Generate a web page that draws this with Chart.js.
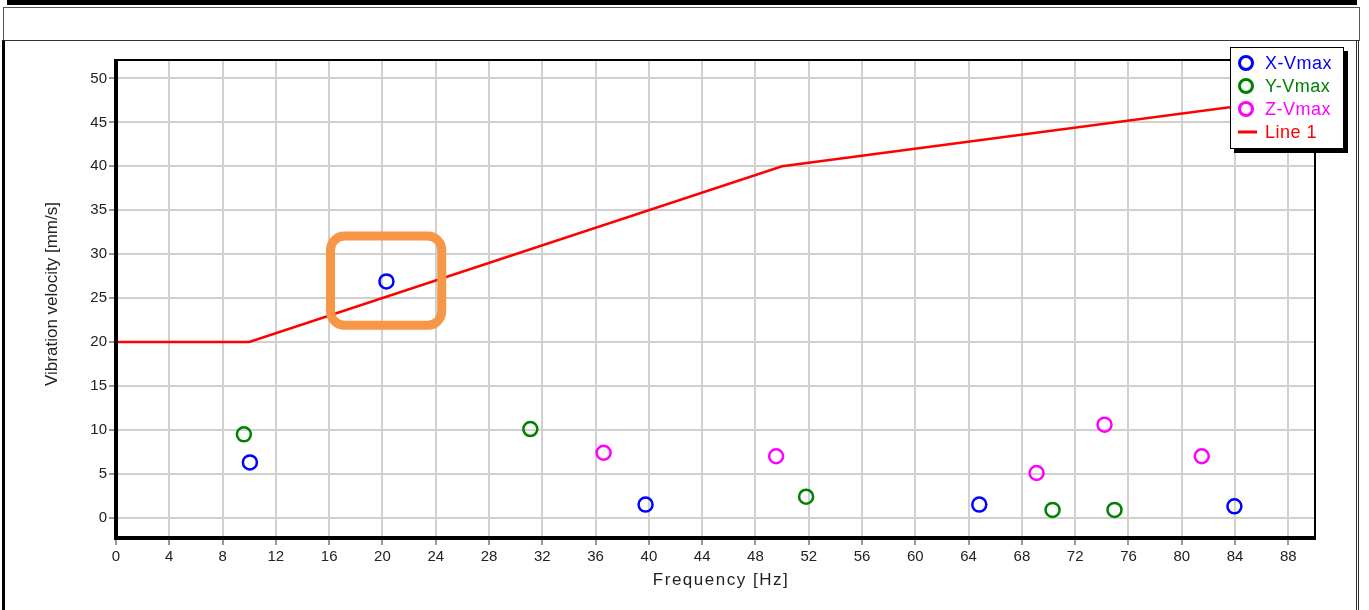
<!DOCTYPE html>
<html>
<head>
<meta charset="utf-8">
<script src="https://cdn.jsdelivr.net/npm/chart.js@4/dist/chart.umd.min.js"></script>
<style>
  html, body { margin: 0; padding: 0; background: #fff; }
  body { width: 1369px; height: 610px; position: relative; overflow: hidden; font-family: "Liberation Sans", Arial, sans-serif; }
  #topbar { position: absolute; left: 7px; top: 0; width: 1350px; height: 5px; background: #000; }
  #box1 { position: absolute; left: 3px; top: 7px; width: 1355px; height: 32px; border: 1px solid #555; }
  #box2 { position: absolute; left: 2px; top: 40px; width: 1351px; height: 575px; border-left: 3px solid #000; border-top: 1px solid #333; border-right: 3px double #333; }
  #wrap { position: absolute; left: 0; top: 0; width: 1369px; height: 610px; }
</style>
</head>
<body>
<div id="topbar"></div>
<div id="box1"></div>
<div id="box2"></div>
<div id="wrap"><canvas id="chart"></canvas></div>
<script>
// measured values
const xVmaxFreq = [10.05, 20.3, 39.75, 64.8, 83.95];
const xVmaxVel  = [6.3, 26.9, 1.5, 1.5, 1.3];
const yVmaxFreq = [9.6, 31.1, 51.8, 70.3, 74.95];
const yVmaxVel  = [9.5, 10.1, 2.4, 0.9, 0.9];
const zVmaxFreq = [36.6, 49.55, 69.1, 74.2, 81.5];
const zVmaxVel  = [7.4, 7.0, 5.1, 10.6, 7.0];
const line1Freq = [0, 10, 50, 100];
const line1Vel  = [20, 20, 40, 50];
const highlight = { xMin: 16.1, xMax: 24.45, yMin: 21.9, yMax: 32.06 };

const FONT = '"Liberation Sans", Arial, sans-serif';
const pts = (xs, ys) => xs.map((x, i) => ({ x: x, y: ys[i] }));

function scatterSet(label, xs, ys, color) {
    return {
        type: 'scatter', label: label, data: pts(xs, ys),
        borderColor: color, backgroundColor: 'rgba(0,0,0,0)',
        pointStyle: 'circle', pointRadius: 7, pointHoverRadius: 7, borderWidth: 2.5
    };
}

const framePlugin = {
    id: 'frame',
    afterDraw(chart) {
        const ctx = chart.ctx, a = chart.chartArea;
        const xs = chart.scales.x, ys = chart.scales.y;
        ctx.save();
        // plot border
        ctx.strokeStyle = '#000';
        ctx.lineWidth = 2;
        ctx.strokeRect(a.left, a.top, a.right - a.left, a.bottom - a.top);
        ctx.lineWidth = 4;
        ctx.beginPath();
        ctx.moveTo(a.left, a.top - 1);
        ctx.lineTo(a.left, a.bottom);
        ctx.lineTo(a.right + 1, a.bottom);
        ctx.stroke();

        // highlight box
        const hx1 = xs.getPixelForValue(highlight.xMin), hx2 = xs.getPixelForValue(highlight.xMax);
        const hy1 = ys.getPixelForValue(highlight.yMax), hy2 = ys.getPixelForValue(highlight.yMin);
        ctx.strokeStyle = '#F79646';
        ctx.lineWidth = 9;
        ctx.beginPath();
        ctx.roundRect(hx1, hy1, hx2 - hx1, hy2 - hy1, 14);
        ctx.stroke();

        // axis titles
        ctx.fillStyle = '#222';
        ctx.font = '17px ' + FONT;
        ctx.textAlign = 'center';
        ctx.textBaseline = 'middle';
        ctx.letterSpacing = '1.5px';
        ctx.fillText('Frequency [Hz]', 721, 580);
        ctx.letterSpacing = '0px';
        ctx.save();
        ctx.translate(52, 294);
        ctx.rotate(-Math.PI / 2);
        ctx.fillText('Vibration velocity [mm/s]', 0, 0);
        ctx.restore();

        // legend
        const lx = 1230, ly = 47, lw = 114, lh = 102;
        ctx.fillStyle = '#000';
        ctx.fillRect(lx + 4, ly + 4, lw, lh);
        ctx.fillStyle = '#fff';
        ctx.fillRect(lx, ly, lw, lh);
        ctx.strokeStyle = '#000';
        ctx.lineWidth = 1;
        ctx.strokeRect(lx + 0.5, ly + 0.5, lw - 1, lh - 1);
        ctx.font = '18px ' + FONT;
        ctx.textAlign = 'left';
        chart.data.datasets.forEach((ds, i) => {
            const cy = 63 + i * 23;
            ctx.strokeStyle = ds.borderColor;
            if (ds.type === 'line') {
                ctx.lineWidth = 3;
                ctx.beginPath();
                ctx.moveTo(1238, cy);
                ctx.lineTo(1257, cy);
                ctx.stroke();
            } else {
                ctx.lineWidth = 3;
                ctx.beginPath();
                ctx.arc(1246, cy, 6.5, 0, Math.PI * 2);
                ctx.stroke();
            }
            ctx.fillStyle = ds.borderColor;
            ctx.letterSpacing = '0.5px';
            ctx.fillText(ds.label, 1265, cy + 1);
        });
        ctx.restore();
    }
};

new Chart(document.getElementById('chart'), {
    data: {
        datasets: [
            scatterSet('X-Vmax', xVmaxFreq, xVmaxVel, '#0000FF'),
            scatterSet('Y-Vmax', yVmaxFreq, yVmaxVel, '#008000'),
            scatterSet('Z-Vmax', zVmaxFreq, zVmaxVel, '#FF00FF'),
            {
                type: 'line', label: 'Line 1', data: pts(line1Freq, line1Vel),
                borderColor: '#FF0000', backgroundColor: '#FF0000', borderWidth: 2.5,
                pointRadius: 0, tension: 0
            }
        ]
    },
    options: {
        responsive: true, maintainAspectRatio: false, animation: false,
        layout: { padding: { top: 60, right: 54, left: 0, bottom: 0 } },
        plugins: { legend: { display: false }, tooltip: { enabled: false } },
        scales: {
            x: {
                type: 'linear', min: 0, max: 90,
                afterFit: s => { s.height = 72; },
                border: { display: false },
                grid: { color: '#d0d0d0', lineWidth: 2, tickLength: 7, tickColor: '#999' },
                ticks: { stepSize: 4, includeBounds: false, color: '#222', padding: 3,
                    font: { family: FONT, size: 15 } }
            },
            y: {
                type: 'linear', min: -2.3, max: 52.1,
                afterFit: s => { s.width = 116; },
                border: { display: false },
                grid: { color: '#d0d0d0', lineWidth: 2, tickLength: 7, tickColor: '#999' },
                ticks: { stepSize: 5, includeBounds: false, color: '#222', padding: 2,
                    font: { family: FONT, size: 15 } }
            }
        }
    },
    plugins: [framePlugin]
});
</script>
</body>
</html>
